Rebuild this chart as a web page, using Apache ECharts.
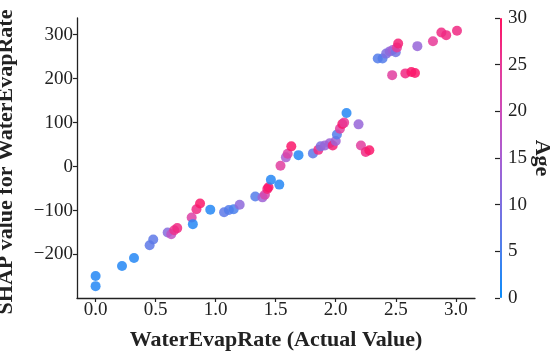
<!DOCTYPE html>
<html>
<head>
<meta charset="utf-8">
<script src="https://cdn.jsdelivr.net/npm/echarts@6/dist/echarts.min.js"></script>
<style>html,body{margin:0;padding:0;background:#fff}#c{width:550px;height:351px}</style>
</head>
<body>
<div id="c"></div>
<script>
var waterEvapRate = [0.00,0.00,0.22,0.32,0.45,0.48,0.60,0.63,0.655,0.68,0.80,0.81,0.84,0.87,0.955,1.07,1.11,1.15,1.20,1.33,1.39,1.41,1.43,1.44,1.46,1.53,1.54,1.585,1.60,1.63,1.69,1.81,1.855,1.875,1.91,1.95,1.975,2.00,2.01,2.035,2.055,2.07,2.09,2.19,2.21,2.25,2.28,2.35,2.39,2.42,2.45,2.475,2.50,2.51,2.52,2.47,2.58,2.63,2.66,2.68,2.81,2.88,2.92,3.01];
var shapValues = [-249,-272,-226,-208,-179,-166,-150,-154,-145,-140,-116,-131,-97,-84,-98,-104,-99,-97,-87,-68,-70,-64,-51,-47,-30,-41,2,21,29,46,26,30,38,46,48,53,48,58,73,86,97,100,122,96,48,33,37,246,246,257,262,265,260,271,280,208,212,215,213,274,285,305,299,309];
var ages = [2,2,2,2,7,7,11,18,26,27,23,2,27,29,2,7,6,5,12,6,14,22,28,29,2,2,24,15,23,29,2,7,27,10,13,14,28,14,6,24,29,25,2,13,24,27,29,6,6,10,12,14,9,25,28,24,27,29,29,13,25,27,27,27];
var xTicks = [0,0.5,1,1.5,2,2.5,3];
var yTicks = [-200,-100,0,100,200,300];
var ageTicks = [0,5,10,15,20,25,30];

var F = 'Liberation Serif';
var data = waterEvapRate.map(function(x,i){return [x, shapValues[i], ages[i]];});
var chart = echarts.init(document.getElementById('c'));
chart.setOption({
  animation:false,
  backgroundColor:'#fff',
  grid:[
    {left:77,right:75,top:18,bottom:53,containLabel:false,outerBoundsMode:'none'},
    {left:500,width:2,top:18,height:280,containLabel:false,outerBoundsMode:'none'}
  ],
  xAxis:[{
    type:'value',gridIndex:0,min:-0.155,max:3.16,
    name:'WaterEvapRate (Actual Value)',nameLocation:'middle',nameGap:31,
    nameTextStyle:{fontFamily:F,fontWeight:'bold',fontSize:22,color:'#222'},
    axisLine:{onZero:false,lineStyle:{color:'#222',width:1.3}},
    axisTick:{length:4,customValues:xTicks,lineStyle:{color:'#222',width:1.2}},
    axisLabel:{customValues:xTicks,margin:3,fontFamily:F,fontSize:19,color:'#222',formatter:function(v){return v.toFixed(1);}},
    splitLine:{show:false}
  },{
    type:'value',gridIndex:1,show:false,min:0,max:1
  }],
  yAxis:[{
    type:'value',gridIndex:0,min:-299,max:338,
    name:'SHAP value for WaterEvapRate',nameLocation:'middle',nameGap:60,
    nameTextStyle:{fontFamily:F,fontWeight:'bold',fontSize:22,color:'#222',padding:[0,8,0,0]},
    axisLine:{onZero:false,lineStyle:{color:'#222',width:1.3}},
    axisTick:{length:4,customValues:yTicks,lineStyle:{color:'#222',width:1.2}},
    axisLabel:{customValues:yTicks,margin:4,fontFamily:F,fontSize:19,color:'#222',formatter:function(v){return String(v).replace('-','\u2212');}},
    splitLine:{show:false}
  },{
    type:'value',gridIndex:1,position:'right',min:0,max:30,interval:5,
    name:'Age',nameLocation:'middle',nameGap:27,nameRotate:-90,
    nameTextStyle:{fontFamily:F,fontWeight:'bold',fontSize:22,color:'#222'},
    axisLine:{show:false},
    axisTick:{show:true,inside:true,length:5,lineStyle:{color:'#222',width:1.2}},
    axisLabel:{margin:6,fontFamily:F,fontSize:19,color:'#222'},
    splitLine:{show:false}
  }],
  visualMap:{
    type:'continuous',min:0,max:30,dimension:2,seriesIndex:0,
    left:500,top:18,itemWidth:2,itemHeight:280,padding:0,
    text:null,showLabel:false,calculable:false,hoverLink:false,
    inRange:{color:['#0a8cfa','#4a80ec','#7d6fe0','#a85fd2','#cc4cba','#e63a98','#ff1060']}
  },
  series:[{
    type:'scatter',xAxisIndex:0,yAxisIndex:0,
    symbolSize:10,
    itemStyle:{opacity:0.85},
    data:data
  }]
});
</script>
</body>
</html>
